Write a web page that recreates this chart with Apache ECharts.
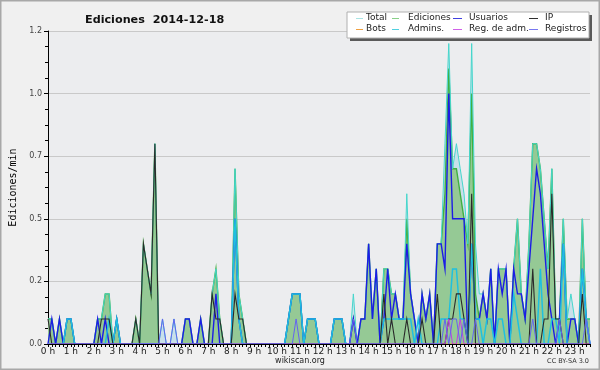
<!DOCTYPE html>
<html><head><meta charset="utf-8">
<script src="https://cdn.jsdelivr.net/npm/echarts/dist/echarts.min.js"></script>
<style>html,body{margin:0;padding:0;background:#f0f0f0}#c{width:600px;height:370px}</style>
</head><body><div id="c"></div>
<script>
// 10-minute bins, values in ediciones/min
const hourLabels = ['0 h','1 h','2 h','3 h','4 h','5 h','6 h','7 h','8 h','9 h','10 h','11 h','12 h','13 h','14 h','15 h','16 h','17 h','18 h','19 h','20 h','21 h','22 h','23 h'];
const yLabels = ['0.0','0.2','0.5','0.7','1.0','1.2'];

const total = [0.1,0.1,0,0.1,0,0.1, 0.1,0,0,0,0,0,
 0,0.1,0.1,0.2,0.2,0, 0.1,0,0,0,0,0.1,
 0,0.4,0.3,0.2,0.8,0, 0.1,0,0,0.1,0,0,
 0.1,0.1,0,0,0.1,0, 0,0.2,0.3,0.1,0,0,
 0,0.7,0.2,0.1,0,0, 0,0,0,0,0,0,
 0,0,0,0.1,0.2,0.2, 0.2,0,0.1,0.1,0.1,0,
 0,0,0,0.1,0.1,0.1, 0,0,0.2,0,0.1,0.1,
 0.4,0.1,0.3,0,0.3,0.3, 0.2,0.2,0.1,0.1,0.6,0.2,
 0.1,0,0.2,0.1,0.2,0, 0.4,0.4,0.8,1.2,0.7,0.8,
 0.7,0.6,0.4,1.2,0.4,0.2, 0.2,0.1,0.3,0,0.3,0.3,
 0.3,0,0.3,0.5,0.2,0.1, 0.4,0.8,0.8,0.7,0.5,0.3,
 0.7,0.1,0.1,0.5,0.1,0.2, 0.1,0,0.5,0.1,0.1];

const ediciones = [0.1,0.1,0,0.1,0,0.1, 0.1,0,0,0,0,0,
 0,0.1,0.1,0.2,0.2,0, 0.1,0,0,0,0,0.1,
 0,0.4,0.3,0.2,0.8,0, 0,0,0,0,0,0,
 0.1,0.1,0,0,0.1,0, 0,0.2,0.3,0.1,0,0,
 0,0.7,0.2,0.1,0,0, 0,0,0,0,0,0,
 0,0,0,0.1,0.2,0.2, 0.2,0,0.1,0.1,0.1,0,
 0,0,0,0.1,0.1,0.1, 0,0,0.1,0,0.1,0.1,
 0.4,0.1,0.3,0,0.3,0.3, 0.2,0.2,0.1,0.1,0.5,0.2,
 0.1,0,0.2,0.1,0.2,0, 0.4,0.4,0.6,1.1,0.7,0.7,
 0.6,0.5,0.4,1.0,0.2,0.1, 0.2,0.1,0.3,0,0.3,0.3,
 0.3,0,0.3,0.5,0.2,0.1, 0.4,0.8,0.8,0.7,0.5,0.3,
 0.7,0.1,0.1,0.5,0.1,0.1, 0.1,0,0.5,0.1,0.1];

const usuarios = [0,0.1,0,0.1,0,0.1, 0.1,0,0,0,0,0,
 0,0.1,0,0.1,0,0, 0.1,0,0,0,0,0,
 0,0,0,0,0,0, 0,0,0,0,0,0,
 0.1,0.1,0,0,0.1,0, 0,0,0.2,0,0,0,
 0,0.5,0.1,0,0,0, 0,0,0,0,0,0,
 0,0,0,0.1,0.2,0.2, 0.2,0,0.1,0.1,0.1,0,
 0,0,0,0.1,0.1,0.1, 0,0,0.1,0,0.1,0.1,
 0.4,0.1,0.3,0,0.1,0.3, 0.1,0.2,0.1,0.1,0.4,0.2,
 0.1,0,0.2,0.1,0.2,0, 0.4,0.4,0.3,1.0,0.5,0.5,
 0.5,0.5,0,0.4,0.1,0.1, 0.2,0.1,0.3,0,0.3,0.2,
 0.3,0,0.3,0.2,0.2,0.1, 0.3,0.5,0.7,0.6,0.4,0.2,
 0.1,0,0.1,0.4,0,0.1, 0.1,0,0.3,0.1,0];

const ip = [0.1,0,0,0,0,0, 0,0,0,0,0,0,
 0,0,0.1,0.1,0.1,0, 0,0,0,0,0,0.1,
 0,0.4,0.3,0.2,0.8,0, 0,0,0,0,0,0,
 0,0,0,0,0,0, 0,0.2,0.1,0.1,0,0,
 0,0.2,0.1,0.1,0,0, 0,0,0,0,0,0,
 0,0,0,0,0,0, 0,0,0,0,0,0,
 0,0,0,0,0,0, 0,0,0,0,0,0,
 0,0,0,0,0.2,0, 0.1,0,0,0,0.1,0,
 0,0,0.1,0,0,0, 0.2,0,0,0.1,0.1,0.2,
 0.2,0.1,0,0.6,0,0, 0,0,0,0,0,0,
 0,0,0,0,0,0, 0,0.3,0,0,0.1,0.1,
 0.6,0.1,0.1,0,0,0, 0,0,0.2,0,0];

const bots = [0,0,0,0,0,0, 0,0,0,0,0,0,
 0,0,0,0,0,0, 0,0,0,0,0,0,
 0,0,0,0,0,0, 0,0,0,0,0,0,
 0,0,0,0,0,0, 0,0,0,0,0,0,
 0,0,0,0,0,0, 0,0,0,0,0,0,
 0,0,0,0,0,0, 0,0,0,0,0,0,
 0,0,0,0,0,0, 0,0,0,0,0,0,
 0,0,0,0,0,0, 0,0,0,0,0,0,
 0,0,0,0,0,0, 0,0,0,0,0,0,
 0,0,0,0,0,0, 0,0,0,0,0,0,
 0,0,0,0,0,0, 0,0,0,0,0,0,
 0,0,0,0,0,0, 0,0,0,0,0];

const admins = [0,0,0,0,0,0.1, 0.1,0,0,0,0,0,
 0,0,0,0,0.1,0, 0.1,0,0,0,0,0,
 0,0,0,0,0,0, 0,0,0,0,0,0,
 0,0,0,0,0,0, 0,0,0,0,0,0,
 0,0.5,0.1,0,0,0, 0,0,0,0,0,0,
 0,0,0,0.1,0.2,0.2, 0.2,0,0.1,0.1,0.1,0,
 0,0,0,0.1,0.1,0.1, 0,0,0,0,0,0,
 0,0,0,0,0.1,0.1, 0.1,0.1,0.1,0.1,0.1,0.1,
 0,0.1,0,0,0,0, 0,0.1,0.1,0.1,0.3,0.3,
 0.1,0.1,0,0.4,0.1,0.1, 0,0.1,0.1,0,0.1,0.1,
 0,0,0.2,0.1,0,0, 0,0,0,0.3,0,0,
 0.1,0.1,0,0.4,0,0, 0,0,0.3,0.1,0];

const regAdm = [0,0,0,0,0,0, 0,0,0,0,0,0,
 0,0,0,0,0,0, 0,0,0,0,0,0,
 0,0,0,0,0,0, 0,0,0,0,0,0,
 0,0,0,0,0,0, 0,0,0,0,0,0,
 0,0,0,0,0,0, 0,0,0,0,0,0,
 0,0,0,0,0,0, 0,0,0,0,0,0,
 0,0,0,0,0,0, 0,0,0,0,0,0,
 0,0,0,0,0,0, 0,0,0,0,0,0,
 0,0,0,0,0,0, 0,0,0,0.1,0,0,
 0.1,0,0,0,0,0, 0,0,0,0,0,0,
 0,0,0,0,0,0, 0,0,0,0,0,0,
 0,0,0,0,0,0, 0,0,0,0,0];

const registros = [0,0,0,0,0,0, 0,0,0,0,0,0,
 0,0,0,0,0,0, 0,0,0,0,0,0,
 0,0,0,0,0,0, 0.1,0,0,0.1,0,0,
 0,0,0,0,0,0, 0,0,0,0,0,0,
 0,0,0,0,0,0, 0,0,0,0,0,0,
 0,0,0,0,0,0.1, 0,0,0,0,0,0,
 0,0,0,0,0,0, 0,0,0.1,0,0,0,
 0,0,0,0,0,0, 0,0,0,0,0,0,
 0,0,0,0,0,0, 0,0,0.1,0,0.1,0.1,
 0,0.1,0,0,0.1,0, 0,0,0,0,0,0,
 0,0,0,0,0,0, 0,0.1,0,0,0,0,
 0,0,0.1,0,0,0, 0,0,0,0.1,0];

const names  = ['Total','Ediciones','Usuarios','IP','Bots','Admins.','Reg. de adm.','Registros'];
const colors = ['#46d6cc','#40b040','#1c1ce6','#2a2a2a','#f0a030','#1ec0e0','#c040e0','#6464f0'];
const legendColors = ['#a8e4e4','#88d088','#4040e0','#303030','#f0a040','#50d0e0','#d060e8','#7878f0'];

const cats = total.map((v, i) => String(i));

function lineSeries(name, data, color, width, extra) {
  return Object.assign({
    name: name, type: 'line', data: data, symbol: 'none', smooth: false,
    lineStyle: { color: color, width: width, join: 'miter', miterLimit: 12 },
    itemStyle: { color: color }, animation: false, silent: true
  }, extra || {});
}

const chart = echarts.init(document.getElementById('c'), null, { renderer: 'canvas' });

// legend as graphic (table layout)
const legCols = [[356, 363, 366], [392, 399, 408], [453, 462, 469], [529, 538, 545]];
const legRows = [18, 29];
const legend = [];
legend.push({ type: 'rect', shape: { x: 350, y: 15, width: 242, height: 26 }, style: { fill: '#5a5a5a' }, z: 100 });
legend.push({ type: 'rect', shape: { x: 347, y: 12, width: 242, height: 26 }, style: { fill: '#ffffff', stroke: '#b0b0b0', lineWidth: 1 }, z: 101 });
names.forEach((n, k) => {
  const c = legCols[k % 4], y = legRows[Math.floor(k / 4)];
  legend.push({ type: 'line', shape: { x1: c[0], y1: y + 0.5, x2: c[1], y2: y + 0.5 }, style: { stroke: legendColors[k], lineWidth: 1 }, z: 102 });
  legend.push({ type: 'text', x: c[2], y: y, style: { text: n, font: '9px "DejaVu Sans"', fill: '#222', textVerticalAlign: 'middle' }, z: 102 });
});

const option = {
  backgroundColor: '#f0f0f0',
  animation: false,
  grid: { left: 46, right: 10, top: 31, bottom: 26, show: true, backgroundColor: '#ecedef', borderWidth: 0 },
  title: { text: 'Ediciones  2014-12-18', left: 80, top: 10,
    textStyle: { fontFamily: 'DejaVu Sans', fontWeight: 'bold', fontSize: 11.2, color: '#111' } },
  xAxis: {
    type: 'category', data: cats, boundaryGap: false, z: 10,
    axisLine: { lineStyle: { color: '#000', width: 1 } },
    axisTick: { show: true, interval: 0, length: 3, lineStyle: { color: '#000' } },
    axisLabel: { interval: 0, margin: 3, fontFamily: 'DejaVu Sans', fontSize: 9, color: '#222',
      formatter: (v, idx) => (idx % 6 === 0 ? hourLabels[idx / 6] : '') },
    splitLine: { show: false }
  },
  yAxis: {
    type: 'value', min: 0, max: 1.25, interval: 0.25,
    name: 'Ediciones/min', nameLocation: 'middle', nameGap: 30, nameRotate: 90,
    nameTextStyle: { fontFamily: 'DejaVu Sans Mono', fontSize: 10, color: '#000' },
    axisLine: { show: true, lineStyle: { color: '#000', width: 1 } },
    axisTick: { show: true, length: 4, lineStyle: { color: '#000' } },
    minorTick: { show: true, splitNumber: 4, length: 3, lineStyle: { color: '#000' } },
    axisLabel: { margin: 6, fontFamily: 'DejaVu Sans', fontSize: 8, color: '#444',
      formatter: v => yLabels[Math.round(v / 0.25)] },
    splitLine: { show: true, lineStyle: { color: '#c9c9c9', width: 1 } }
  },
  series: [
    lineSeries('Total-area', total, '#46d6cc', 0, { lineStyle: { width: 0, opacity: 0 }, areaStyle: { color: '#c8e0ea', opacity: 1 }, z: 1 }),
    lineSeries('Ediciones', ediciones, colors[1], 1.4, { areaStyle: { color: '#95c995', opacity: 1 }, z: 2 }),
    lineSeries('Total', total, colors[0], 1, { z: 3 }),
    lineSeries('Bots', bots, colors[4], 1, { z: 3 }),
    lineSeries('Usuarios', usuarios, colors[2], 1.4, { z: 3 }),
    lineSeries('Admins.', admins, colors[5], 1.5, { z: 3 }),
    lineSeries('IP', ip, colors[3], 1.1, { z: 3 }),
    lineSeries('Reg. de adm.', regAdm, colors[6], 1, { z: 3 }),
    lineSeries('Registros', registros, colors[7], 1, { z: 3 })
  ],
  graphic: [
    { type: 'rect', shape: { x: 0.5, y: 0.5, width: 599, height: 369 }, style: { fill: 'none', stroke: '#a8a8a8', lineWidth: 2 }, z: 200, silent: true },
    { type: 'text', x: 300, y: 361, style: { text: 'wikiscan.org', font: '8px "DejaVu Sans"', fill: '#222', textAlign: 'center', textVerticalAlign: 'middle' }, z: 50 },
    { type: 'text', x: 589, y: 361, style: { text: 'CC BY-SA 3.0', font: '6.5px "DejaVu Sans"', fill: '#333', textAlign: 'right', textVerticalAlign: 'middle' }, z: 50 }
  ].concat(legend)
};
chart.setOption(option);
</script></body></html>
